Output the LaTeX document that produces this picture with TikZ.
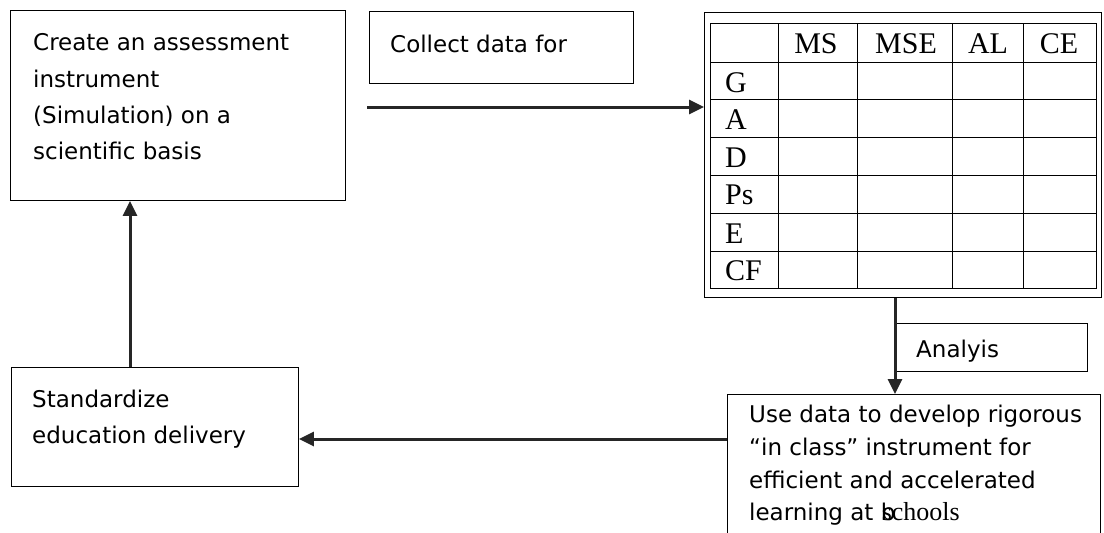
\documentclass[tikz,border=0pt]{standalone}
\usepackage{fontspec}
\setmainfont{DejaVu Sans}
\newfontfamily\tabfont{Liberation Serif}
\usetikzlibrary{arrows.meta}
\begin{document}
\begin{tikzpicture}[x=1pt,y=-1pt,
  box/.style={draw, line width=0.9pt, inner sep=0pt, anchor=north west},
  txt/.style={anchor=base west, inner sep=0pt, font=\fontsize{23}{36}\selectfont},
  tab/.style={inner sep=0pt, font=\tabfont\fontsize{30}{34}\selectfont},
  flow/.style={line width=3pt, draw=black!85, -{Triangle[length=15pt,width=14pt]}}]
\useasboundingbox (0,0) rectangle (1104,533);
\clip (0,0) rectangle (1104,533);

% process boxes
\node[box, minimum width=335pt, minimum height=190pt] (create) at (10,10) {};
\node[box, minimum width=264pt, minimum height=72pt] (collect) at (369,11) {};
\node[box, minimum width=397pt, minimum height=285pt] (table) at (704,12) {};
\node[box, minimum width=192pt, minimum height=48pt] (analysis) at (895,323) {};
\node[box, minimum width=373pt, minimum height=160pt] (use) at (727,394) {};
\node[box, minimum width=287pt, minimum height=119pt] (std) at (11,367) {};

% box texts
\node[txt] (t1) at (33,50) {Create an assessment};
\node[txt] (t2) at (33,87) {instrument};
\node[txt] (t3) at (33,123) {(Simulation) on a};
\node[txt] (t4) at (33,159) {scientific basis};
\node[txt] (c1) at (390,52) {Collect data for};
\node[txt] (a1) at (916,357) {Analyis};
\node[txt] (s1) at (32,407) {Standardize};
\node[txt] (s2) at (32,443) {education delivery};
\node[txt] (u1) at (749,422) {Use data to develop rigorous};
\node[txt] (u2) at (749,455) {“in class” instrument for};
\node[txt] (u3) at (749,488) {efficient and accelerated};
\node[txt] (u4) at (749,520) {learning at \rlap{b}\kern1pt{\tabfont\fontsize{26}{30}\selectfont schools}};

% data grid
\draw[line width=1pt] (710,23) rectangle (1096,288);
\foreach \y in {62,99,137,175,213,251} \draw[line width=1pt] (710,\y) -- (1096,\y);
\foreach \x in {778,857,952,1023} \draw[line width=1pt] (\x,23) -- (\x,288);
\node[tab, anchor=base] (hMS) at (816,53) {MS};
\node[tab, anchor=base] (hMSE) at (906,53) {MSE};
\node[tab, anchor=base] (hAL) at (988,53) {AL};
\node[tab, anchor=base] (hCE) at (1059,53) {CE};
\node[tab, anchor=base west] (rG) at (725,92) {G};
\node[tab, anchor=base west] (rA) at (725,129) {A};
\node[tab, anchor=base west] (rD) at (725,167) {D};
\node[tab, anchor=base west] (rPs) at (725,204) {Ps};
\node[tab, anchor=base west] (rE) at (725,243) {E};
\node[tab, anchor=base west] (rCF) at (725,280) {CF};

% connectors
\coordinate (collectstart) at (367,107);
\draw[flow] (collectstart) -- (collectstart -| table.west);
\draw[flow] (table.south -| analysis.west) -- (use.north -| analysis.west);
\draw[flow] (use.west |- 0,439) -- (std.east |- 0,439);
\draw[flow] (std.north -| 130,0) -- (create.south -| 130,0);
\end{tikzpicture}
\end{document}
